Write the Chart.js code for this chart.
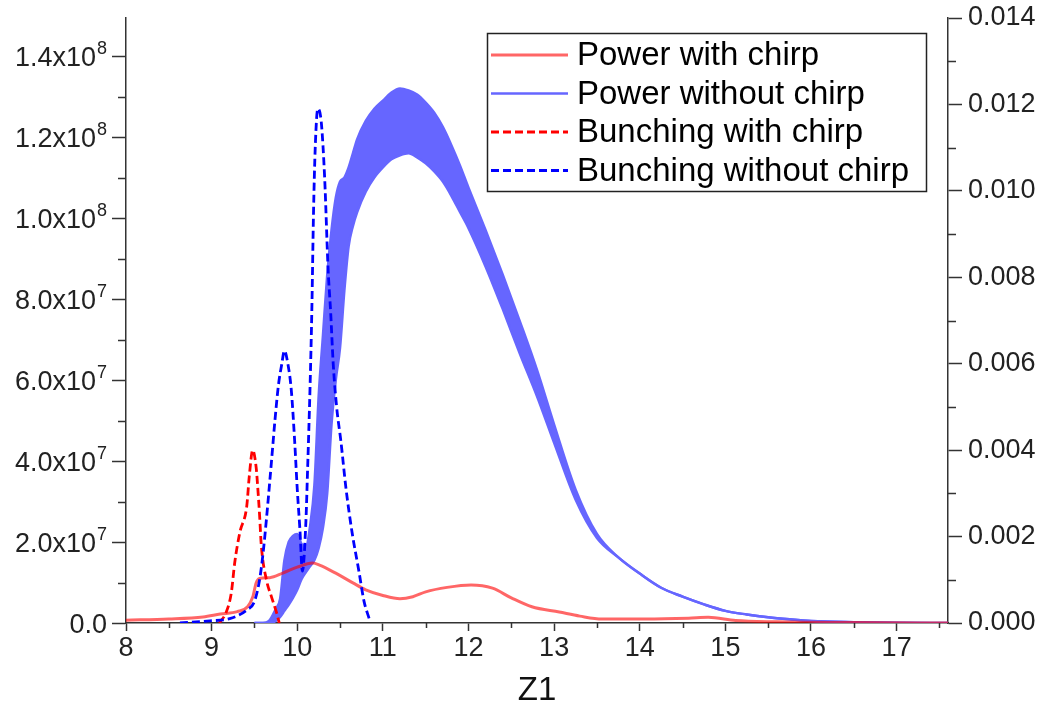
<!DOCTYPE html>
<html>
<head>
<meta charset="utf-8">
<script src="https://cdn.jsdelivr.net/npm/chart.js@4.4.1/dist/chart.umd.min.js"></script>
<style>
    html, body { margin: 0; padding: 0; background: #fff; }
    #wrap { width: 1049px; height: 719px; }
</style>
</head>
<body>
<div id="wrap"><canvas id="chart" width="1049" height="719"></canvas></div>
<script>
// Power with chirp (left axis, in units of 1e7)
const zPowerChirp = [8.0, 8.5, 8.9, 9.1, 9.3, 9.42, 9.48, 9.52, 9.56, 9.68, 9.83, 10.0, 10.18, 10.26, 10.45, 10.65,
    10.8, 11.0, 11.2, 11.35, 11.5, 11.75, 12.03, 12.28, 12.5, 12.74, 13.06, 13.3, 13.56, 14.07, 14.57, 14.8,
    15.12, 15.6, 16.5, 17.6];
const powerChirp = [0.07, 0.1, 0.15, 0.22, 0.28, 0.4, 0.64, 0.99, 1.1, 1.12, 1.23, 1.38, 1.48, 1.43, 1.23, 0.99,
    0.82, 0.68, 0.6, 0.65, 0.77, 0.88, 0.94, 0.86, 0.62, 0.4, 0.27, 0.17, 0.1, 0.1, 0.12, 0.14,
    0.06, 0.03, 0.01, 0];

// Power without chirp: fast oscillation, kept as upper / lower envelope (units of 1e7)
const zPowerNoChirp = [9.5, 9.6, 9.67, 9.75, 9.8, 9.85, 9.9, 9.95, 10.0, 10.05, 10.1, 10.15, 10.2, 10.25, 10.3,
    10.35, 10.4, 10.45, 10.5, 10.55, 10.6, 10.65, 10.7, 10.8, 10.9, 11.0, 11.1, 11.2, 11.3, 11.4, 11.5, 11.6,
    11.7, 11.8, 11.9, 12.0, 12.2, 12.4, 12.6, 12.8, 13.0, 13.25, 13.5, 13.75, 14.0, 14.25, 14.5, 14.75, 15.0,
    15.25, 15.5, 15.75, 16.0, 16.5, 17.0, 17.6];
const powerNoChirpHigh = [0, 0, 0.05, 0.35, 0.6, 1.55, 2.0, 2.15, 2.2, 1.95, 1.9, 2.4, 3.4, 5.6, 7.1,
    8.6, 9.7, 10.5, 10.9, 11.0, 11.25, 11.6, 11.95, 12.4, 12.7, 12.9, 13.1, 13.2, 13.15, 13.05, 12.85, 12.6,
    12.25, 11.8, 11.3, 10.75, 9.7, 8.6, 7.45, 6.25, 4.9, 3.3, 2.2, 1.62, 1.22, 0.87, 0.65, 0.46, 0.3,
    0.21, 0.14, 0.09, 0.05, 0.02, 0.005, 0];
const powerNoChirpLow = [0, 0, 0, 0.05, 0.15, 0.3, 0.45, 0.62, 0.82, 1.08, 1.25, 1.4, 1.55, 1.85, 2.35,
    3.2, 4.9, 6.0, 6.8, 8.2, 9.3, 9.8, 10.15, 10.65, 11.0, 11.25, 11.45, 11.55, 11.6, 11.5, 11.35, 11.15,
    10.9, 10.55, 10.15, 9.75, 8.8, 7.75, 6.65, 5.6, 4.45, 3.05, 2.1, 1.62, 1.22, 0.87, 0.65, 0.46, 0.3,
    0.21, 0.14, 0.09, 0.05, 0.02, 0.005, 0];

// Bunching (right axis)
const zBunchChirp = [9.09, 9.17, 9.23, 9.27, 9.33, 9.41, 9.44, 9.48, 9.52, 9.54, 9.56, 9.58, 9.64, 9.7, 9.76, 9.79];
const bunchChirp = [0, 0.00025, 0.0007, 0.0014, 0.0021, 0.0027, 0.0034, 0.004, 0.0036, 0.0031, 0.0025, 0.0018,
    0.001, 0.0006, 0.00023, 0];

const zBunchNoChirp = [8.63, 8.98, 9.21, 9.41, 9.5, 9.56, 9.6, 9.64, 9.68, 9.71, 9.74, 9.78, 9.82, 9.85, 9.89,
    9.93, 9.97, 10.0, 10.03, 10.06, 10.1, 10.12, 10.15, 10.17, 10.19, 10.21, 10.24, 10.28, 10.32, 10.36, 10.39,
    10.42, 10.46, 10.51, 10.57, 10.64, 10.72, 10.78, 10.84];
const bunchNoChirp = [0, 0.00005, 0.0001, 0.0003, 0.0005, 0.001, 0.0016, 0.0024, 0.0033, 0.004, 0.0047, 0.0055,
    0.006, 0.0063, 0.006, 0.0054, 0.0042, 0.0031, 0.0022, 0.0012, 0.0023, 0.0035, 0.0055, 0.0072, 0.0095,
    0.011, 0.0119, 0.0116, 0.0103, 0.0082, 0.0072, 0.006, 0.005, 0.0042, 0.0031, 0.0021, 0.0012, 0.0005, 0.0001];

// left labels as [mantissa, exponent]
const leftTickLabels = [["0.0", ""], ["2.0x10", "7"], ["4.0x10", "7"], ["6.0x10", "7"], ["8.0x10", "7"],
    ["1.0x10", "8"], ["1.2x10", "8"], ["1.4x10", "8"]];
const rightTickLabels = ["0.000", "0.002", "0.004", "0.006", "0.008", "0.010", "0.012", "0.014"];

const E7 = 1e7;
const LEFT_MAX = 1.494e8;
const pts = (xs, ys, k) => xs.map((x, i) => ({ x: x, y: ys[i] * k }));

const FONT = '"Liberation Sans", Arial, sans-serif';
const AXIS = "#333";
const TEXT = "#222";

// minor ticks between the labelled ones
const minorTicks = {
    id: "minorTicks",
    afterDraw(chart) {
        const { ctx, scales } = chart;
        const x = scales.x, yl = scales.y, yr = scales.y1;
        ctx.save();
        ctx.strokeStyle = AXIS;
        ctx.lineWidth = 1.5;
        ctx.beginPath();
        for (let v = 8.5; v < x.max; v += 1) {
            const px = Math.round(x.getPixelForValue(v)) + 0.5;
            ctx.moveTo(px, x.top);
            ctx.lineTo(px, x.top + 5);
        }
        for (let k = 1; k * E7 < yl.max; k += 2) {
            const py = Math.round(yl.getPixelForValue(k * E7)) + 0.5;
            ctx.moveTo(yl.right, py);
            ctx.lineTo(yl.right - 8, py);
        }
        for (let k = 1; k < 14; k += 2) {
            const py = Math.round(yr.getPixelForValue(k * 0.001)) + 0.5;
            ctx.moveTo(yr.left, py);
            ctx.lineTo(yr.left + 8, py);
        }
        ctx.stroke();
        ctx.restore();
    }
};

// left tick labels with a raised exponent
const sciLabels = {
    id: "sciLabels",
    afterDraw(chart) {
        const { ctx } = chart;
        const yl = chart.scales.y;
        ctx.save();
        ctx.fillStyle = TEXT;
        ctx.textBaseline = "alphabetic";
        yl.ticks.forEach((t) => {
            const lab = leftTickLabels[Math.round(t.value / 2e7)];
            if (!lab) return;
            const [mant, exp] = lab;
            const py = yl.getPixelForValue(t.value);
            const xr = yl.right - 14 - 5;
            ctx.font = "18px " + FONT;
            const ew = exp ? ctx.measureText(exp).width + 1 : 0;
            ctx.font = "27px " + FONT;
            ctx.textAlign = "right";
            ctx.fillText(mant, xr - ew, py + 10);
            if (exp) {
                ctx.font = "18px " + FONT;
                ctx.textAlign = "left";
                ctx.fillText(exp, xr - ew + 1, py - 2);
            }
        });
        ctx.restore();
    }
};

// boxed legend inside the plot, top right
const legendRows = [0, 1, 2, 3];
const boxLegend = {
    id: "boxLegend",
    afterDraw(chart) {
        const ctx = chart.ctx;
        ctx.save();
        ctx.fillStyle = "#fff";
        ctx.fillRect(487, 33, 439, 158);
        ctx.strokeStyle = "#222";
        ctx.lineWidth = 1.5;
        ctx.strokeRect(487.5, 33.5, 439, 158);
        ctx.font = "33px " + FONT;
        ctx.textBaseline = "middle";
        legendRows.forEach((idx, r) => {
            const ds = chart.data.datasets[idx];
            const y = 55 + r * 38.5;
            ctx.strokeStyle = ds.borderColor;
            ctx.lineWidth = ds.borderWidth;
            ctx.setLineDash(ds.borderDash || []);
            ctx.beginPath();
            ctx.moveTo(491, y);
            ctx.lineTo(568, y);
            ctx.stroke();
            ctx.setLineDash([]);
            ctx.fillStyle = "#000";
            ctx.fillText(ds.label, 577, y + 1);
        });
        ctx.restore();
    }
};

const noPad = (s) => { s.paddingTop = 0; s.paddingBottom = 0; };

const ctx = document.getElementById("chart").getContext("2d");

new Chart(ctx, {
    type: "line",
    data: {
        datasets: [
            {
                label: "Power with chirp",
                data: pts(zPowerChirp, powerChirp, E7),
                yAxisID: "y",
                borderColor: "rgba(255, 0, 0, 0.6)",
                borderWidth: 3,
                pointRadius: 0,
                cubicInterpolationMode: "monotone",
                order: 2
            },
            {
                label: "Power without chirp",
                data: pts(zPowerNoChirp, powerNoChirpHigh, E7),
                yAxisID: "y",
                borderColor: "#6666ff",
                borderWidth: 2.5,
                pointRadius: 0,
                cubicInterpolationMode: "monotone",
                order: 4
            },
            {
                label: "Bunching with chirp",
                data: pts(zBunchChirp, bunchChirp, 1),
                yAxisID: "y1",
                borderColor: "#ff0000",
                borderWidth: 2.8,
                borderDash: [8, 4],
                pointRadius: 0,
                cubicInterpolationMode: "monotone",
                order: 1
            },
            {
                label: "Bunching without chirp",
                data: pts(zBunchNoChirp, bunchNoChirp, 1),
                yAxisID: "y1",
                borderColor: "#0000ff",
                borderWidth: 2.8,
                borderDash: [8, 4],
                pointRadius: 0,
                cubicInterpolationMode: "monotone",
                order: 0
            },
            {
                label: "",
                data: pts(zPowerNoChirp, powerNoChirpLow, E7),
                yAxisID: "y",
                borderColor: "#6666ff",
                backgroundColor: "#6666ff",
                borderWidth: 2.5,
                pointRadius: 0,
                cubicInterpolationMode: "monotone",
                fill: 1,
                order: 3
            }
        ]
    },
    options: {
        responsive: false,
        devicePixelRatio: 1,
        animation: false,
        layout: { padding: { top: 18, left: 0, right: 0, bottom: 0 } },
        plugins: {
            legend: { display: false },
            tooltip: { enabled: false }
        },
        scales: {
            x: {
                type: "linear",
                position: "bottom",
                bounds: "data",
                min: 8,
                max: 17.6,
                afterFit: (s) => { s.height = 96; },
                ticks: {
                    stepSize: 1,
                    includeBounds: false,
                    color: TEXT,
                    padding: 1,
                    maxRotation: 0,
                    font: { family: FONT, size: 27 }
                },
                grid: { drawOnChartArea: false, drawTicks: true, tickLength: 8, tickColor: AXIS, tickWidth: 1.5 },
                border: { display: true, color: AXIS, width: 1.5 },
                title: {
                    display: true,
                    text: "Z1",
                    color: "#111",
                    font: { family: FONT, size: 33 },
                    padding: { top: 0, bottom: 8 }
                }
            },
            y: {
                type: "linear",
                position: "left",
                bounds: "data",
                min: 0,
                max: LEFT_MAX,
                afterDataLimits: (s) => { s.min = 0; s.max = LEFT_MAX; },
                afterBuildTicks: (s) => {
                    s.ticks = leftTickLabels.map((l, i) => ({ value: i * 2e7 }));
                    s.min = 0;
                    s.max = LEFT_MAX;
                },
                afterFit: (s) => { s.width = 126; noPad(s); },
                ticks: {
                    stepSize: 2e7,
                    includeBounds: false,
                    callback: () => ""
                },
                grid: { drawOnChartArea: false, drawTicks: true, tickLength: 14, tickColor: AXIS, tickWidth: 1.5 },
                border: { display: true, color: AXIS, width: 1.5 }
            },
            y1: {
                type: "linear",
                position: "right",
                bounds: "data",
                min: 0,
                max: 0.014,
                afterFit: (s) => { s.width = 101; noPad(s); },
                ticks: {
                    stepSize: 0.002,
                    color: TEXT,
                    padding: 6,
                    font: { family: FONT, size: 27 },
                    callback: (v) => rightTickLabels[Math.round(v / 0.002)]
                },
                grid: { drawOnChartArea: false, drawTicks: true, tickLength: 14, tickColor: AXIS, tickWidth: 1.5 },
                border: { display: true, color: AXIS, width: 1.5 }
            }
        }
    },
    plugins: [minorTicks, sciLabels, boxLegend]
});
</script>
</body>
</html>
